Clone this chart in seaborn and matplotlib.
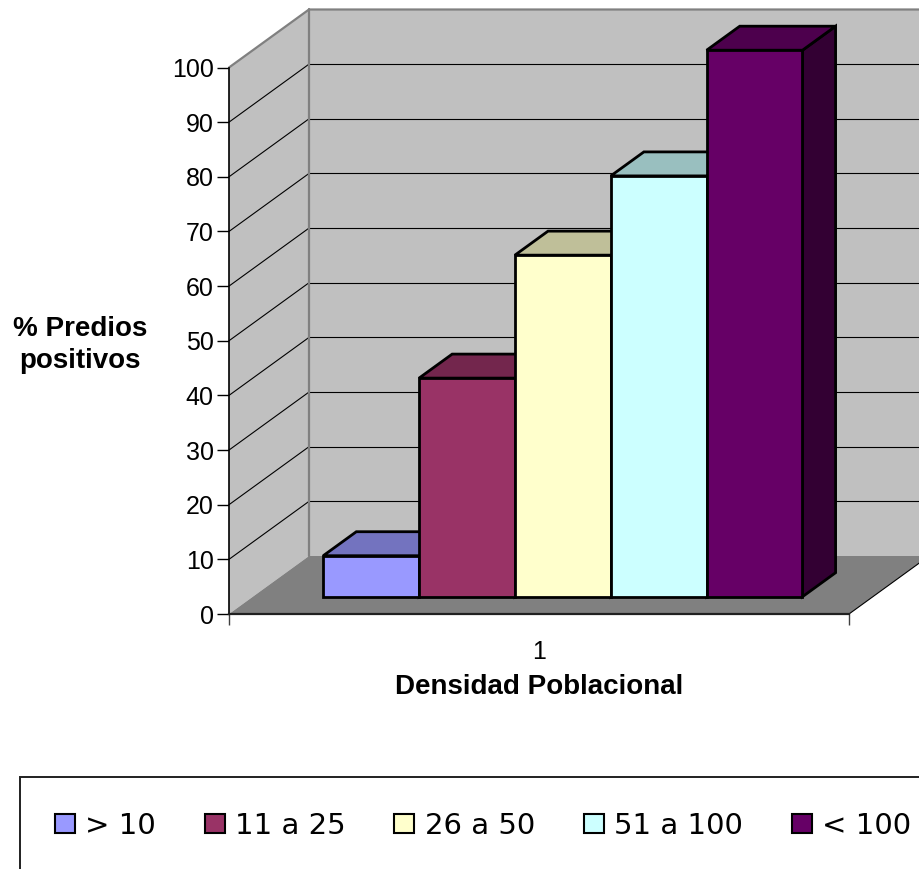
import matplotlib
matplotlib.use("Agg")
import matplotlib.pyplot as plt
from matplotlib.patches import Polygon, Patch
from matplotlib.lines import Line2D
from matplotlib.font_manager import FontProperties
import pandas as pd
import seaborn as sns

# Data
categories = ["> 10", "11 a 25", "26 a 50", "51 a 100", "< 100"]
values = [7.5, 40, 62.5, 77, 100]
colors = ["#9999FF", "#993366", "#FFFFCC", "#CCFFFF", "#660066"]
group = ["1"] * len(categories)
y_ticks = list(range(0, 101, 10))

sns.set_theme(style="ticks")
plt.rcParams["font.family"] = ["Liberation Sans", "DejaVu Sans"]
plt.rcParams.update({"text.color": "black", "axes.labelcolor": "black",
                     "xtick.color": "black", "ytick.color": "black",
                     "xtick.labelcolor": "black", "ytick.labelcolor": "black"})

W, H, DPI = 920, 869, 100
fig = plt.figure(figsize=(W / DPI, H / DPI), dpi=DPI)
fig.patch.set_facecolor("white")
# front plane of the 3D box: value axis on the left edge, floor edge at the bottom
ax = fig.add_axes([229 / W, (H - 614) / H, 620 / W, 546.5 / H])

df = pd.DataFrame({"grupo": group, "rango": categories, "pct": values})
sns.barplot(data=df, x="grupo", y="pct", hue="rango", hue_order=categories,
            palette=colors, saturation=1, width=0.773, edgecolor="black",
            linewidth=2.0, legend=False, ax=ax)
ax.set_xlim(-0.5, 0.5)
ax.set_ylim(0, 100)
ax.patch.set_visible(False)

# depth vector of the box (pixels) converted to data units
def px_to_data(dx_px, dy_px):
    o = ax.transData.transform((0, 0))
    sx = ax.transData.transform((1, 0))[0] - o[0]
    sy = ax.transData.transform((0, 1))[1] - o[1]
    return dx_px / sx, dy_px / sy

DX, DY = px_to_data(80, 58)
F0 = 0.298   # depth where the bar fronts sit
T = 0.414    # bar depth

WALL = "#C0C0C0"
FLOOR = "#808080"
EDGE = "#808080"

x0, x1 = -0.5, 0.5
side_wall = Polygon([(x0, 0), (x0 + DX, DY), (x0 + DX, 100 + DY), (x0, 100)],
                    closed=True, fc=WALL, ec="none", zorder=1, clip_on=False)
back_wall = Polygon([(x0 + DX, DY), (x1 + DX, DY), (x1 + DX, 100 + DY), (x0 + DX, 100 + DY)],
                    closed=True, fc=WALL, ec="none", zorder=1, clip_on=False)
floor = Polygon([(x0, 0), (x1, 0), (x1 + DX, DY), (x0 + DX, DY)],
                closed=True, fc=FLOOR, ec="none", zorder=2, clip_on=False)
for p in (side_wall, back_wall, floor):
    ax.add_patch(p)

# gridlines on the side and back walls
for v in y_ticks[1:-1]:
    ax.add_line(Line2D([x0, x0 + DX], [v, v + DY], color="black", lw=0.8, zorder=3, clip_on=False))
    ax.add_line(Line2D([x0 + DX, x1 + DX], [v + DY, v + DY], color="black", lw=0.8, zorder=3, clip_on=False))

# wall outlines
ax.add_line(Line2D([x0, x0 + DX, x1 + DX], [100, 100 + DY, 100 + DY], color=EDGE, lw=1.6, zorder=3, clip_on=False))
ax.add_line(Line2D([x0 + DX, x0 + DX], [DY, 100 + DY], color=EDGE, lw=1.6, zorder=3, clip_on=False))
ax.add_line(Line2D([x1, x1 + DX], [0, DY], color="black", lw=0.8, zorder=3, clip_on=False))

# extrude the bars into boxes
bars = [p for p in ax.patches if p not in (side_wall, back_wall, floor)]
for i, (bar, col) in enumerate(zip(bars, colors)):
    bx = bar.get_x() + F0 * DX
    bw = bar.get_width()
    bh = bar.get_height()
    by = F0 * DY
    bar.set_x(bx)
    bar.set_y(by)
    bar.set_clip_on(False)
    z = 5 + i * 0.1
    bar.set_zorder(z + 0.05)
    rgb = matplotlib.colors.to_rgb(col)
    top_c = tuple(c * 0.75 for c in rgb)
    side_c = tuple(c * 0.5 for c in rgb)
    xb = bx + bw
    top = Polygon([(bx, by + bh), (xb, by + bh), (xb + T * DX, by + bh + T * DY),
                   (bx + T * DX, by + bh + T * DY)], closed=True, fc=top_c,
                  ec="black", lw=2.0, joinstyle="miter", zorder=z, clip_on=False)
    side = Polygon([(xb, by), (xb + T * DX, by + T * DY), (xb + T * DX, by + bh + T * DY),
                    (xb, by + bh)], closed=True, fc=side_c, ec="black", lw=2.0,
                   joinstyle="miter", zorder=z, clip_on=False)
    ax.add_patch(side)
    ax.add_patch(top)

# axes styling
for s in ("top", "right"):
    ax.spines[s].set_visible(False)
ax.spines["left"].set_color("black")
ax.spines["left"].set_linewidth(1.2)
ax.spines["left"].set_zorder(4)
ax.spines["bottom"].set_color("#202020")
ax.spines["bottom"].set_linewidth(1.6)
ax.spines["bottom"].set_zorder(4)

ax.set_yticks(y_ticks)
ax.tick_params(axis="y", which="major", left=True, length=9, width=1, color="black",
               pad=2, labelsize=18, labelcolor="black", direction="out")
ax.tick_params(axis="x", which="major", length=0, pad=19, labelsize=18, labelcolor="black")
ax.set_xticks([x0, x1], minor=True)
ax.tick_params(axis="x", which="minor", bottom=True, length=8, width=1, color="#404040")

ax.set_xlabel("Densidad Poblacional", fontsize=20, fontweight="bold", color="black")
ax.xaxis.set_label_coords(0.5, (614 - 687) / 546.5)
ax.xaxis.label.set_va("center")
ax.set_ylabel("% Predios\npositivos", rotation=0, fontsize=20, fontweight="bold",
              ha="center", va="center", linespacing=1.3, color="black")
ax.yaxis.set_label_coords((80 - 229) / 620, (614 - 345) / 546.5)

handles = [Patch(facecolor=c, edgecolor="black", linewidth=1.5) for c in colors]
leg = fig.legend(handles, categories, loc="upper left",
                 bbox_to_anchor=(20 / W, 1 - 777 / H), bbox_transform=fig.transFigure,
                 ncol=5, frameon=True, fancybox=False, framealpha=1, edgecolor="#202020",
                 prop=FontProperties(family="DejaVu Sans", size=21),
                 borderpad=1.2, borderaxespad=0, handlelength=0.68, handleheight=0.65,
                 handletextpad=0.35, columnspacing=1.68)
leg.get_frame().set_linewidth(1.4)
for t in leg.get_texts():
    t.set_color("black")

fig.savefig("out.png", dpi=DPI, facecolor="white")
